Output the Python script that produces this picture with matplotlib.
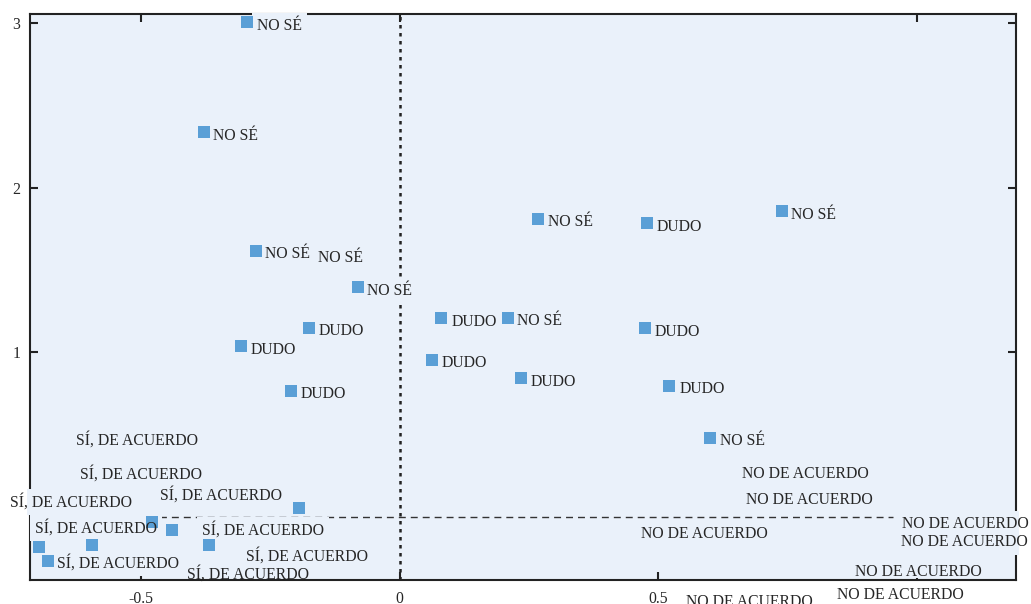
import matplotlib
matplotlib.use("Agg")
import matplotlib.pyplot as plt
from matplotlib.transforms import Bbox, TransformedBbox, offset_copy

plt.rcParams["font.family"] = ["Liberation Serif", "DejaVu Serif"]
plt.rcParams["axes.unicode_minus"] = False

# marker positions (data units)
point_x = [-0.295, -0.378, -0.278, -0.080, -0.175, -0.307, -0.210,
           0.268, 0.479, 0.740, 0.080, 0.210, 0.475, 0.063, 0.235, 0.521, 0.601,
           -0.194, -0.479, -0.440, -0.697, -0.595, -0.368, -0.680]
point_y = [3.006, 2.337, 1.614, 1.395, 1.146, 1.036, 0.763,
           1.809, 1.784, 1.857, 1.207, 1.207, 1.146, 0.951, 0.842, 0.793, 0.477,
           0.052, -0.033, -0.082, -0.185, -0.173, -0.173, -0.271]

# category labels (left edge, vertical centre, data units)
label_text = (["NO SÉ", "NO SÉ", "NO SÉ", "NO SÉ", "NO SÉ", "DUDO", "DUDO", "DUDO",
               "NO SÉ", "DUDO", "NO SÉ", "DUDO", "NO SÉ", "DUDO", "DUDO", "DUDO", "DUDO", "NO SÉ"]
              + ["SÍ, DE ACUERDO"] * 9 + ["NO DE ACUERDO"] * 8)
label_x = [-0.276, -0.361, -0.260, -0.158, -0.063, -0.156, -0.289, -0.191,
           0.287, 0.498, 0.757, 0.100, 0.227, 0.494, 0.082, 0.254, 0.541, 0.620,
           -0.626, -0.618, -0.753, -0.463, -0.705, -0.382, -0.662, -0.297, -0.411,
           0.662, 0.670, 0.972, 0.970, 0.467, 0.881, 0.554, 0.846]
label_y = [2.994, 2.325, 1.608, 1.584, 1.383, 1.140, 1.024, 0.757,
           1.802, 1.772, 1.845, 1.195, 1.201, 1.134, 0.945, 0.830, 0.787, 0.471,
           0.477, 0.271, 0.100, 0.143, -0.058, -0.070, -0.271, -0.228, -0.337,
           0.271, 0.112, -0.033, -0.143, -0.094, -0.325, -0.508, -0.465]

x_ticks = [-0.5, 0, 0.5, 1.0]
x_tick_labels = ["-0.5", "0", "0.5", ""]
y_ticks = [1, 2, 3]
y_tick_labels = ["1", "2", "3"]

BG = "#EAF1FA"
BLUE = "#5A9FD6"
INK = "#262626"

fig = plt.figure(figsize=(10.31, 6.04), dpi=100)
ax = fig.add_axes([0.0291, 0.0397, 0.9564, 0.9371])
ax.set_facecolor(BG)
ax.set_xlim(-0.7147, 1.1925)
ax.set_ylim(-0.386, 3.055)

for side in ax.spines.values():
    side.set_linewidth(1.5)
    side.set_color("#222222")

ax.set_xticks(x_ticks)
ax.set_xticklabels(x_tick_labels)
ax.set_yticks(y_ticks)
ax.set_yticklabels(y_tick_labels)
ax.tick_params(axis="both", direction="in", length=6, width=1.5, colors="#222222",
               labelsize=11.3, labelcolor=INK)
ax.tick_params(axis="x", pad=8)
ax.tick_params(axis="y", pad=7, right=True)

top = ax.secondary_xaxis("top")
top.set_xticks([-0.5, 0, 1.0])
top.tick_params(direction="in", length=6, width=1.5, colors="#222222", labeltop=False)
top.spines["top"].set_visible(False)

# reference lines
ax.axvline(0, color="#222222", lw=1.8, ls=(0, (1.4, 1.8)), zorder=2)
ax.plot([-0.695, 0.955], [0, 0], color="#333333", lw=1.0, ls=(0, (5, 3.6)), zorder=2)

# labels sit a touch lower than the box centre
text_tr = offset_copy(ax.transData, fig=fig, x=0, y=-2, units="dots")

# label backgrounds: hide spines/lines under text, inside the plot box
# (the bottom spine stays untouched, as in the original)
clip_box = TransformedBbox(Bbox([[-0.003, 0.004], [1.003, 1.005]]), ax.transAxes)
for t, x, y in zip(label_text, label_x, label_y):
    bg = ax.text(x, y, t, fontsize=11.3, ha="left", va="center", color="none", zorder=3,
                 transform=text_tr,
                 bbox=dict(boxstyle="square,pad=0.3", fc=BG, ec="none"))
    patch = bg.get_bbox_patch()
    patch.set_clip_box(clip_box)
    patch.set_clip_on(True)

ax.scatter(point_x, point_y, marker="s", s=66, color=BLUE, linewidths=0, zorder=4)

for t, x, y in zip(label_text, label_x, label_y):
    ax.text(x, y, t, fontsize=11.3, ha="left", va="center", color=INK, zorder=5,
            transform=text_tr)

fig.savefig("out.png", dpi=100)
